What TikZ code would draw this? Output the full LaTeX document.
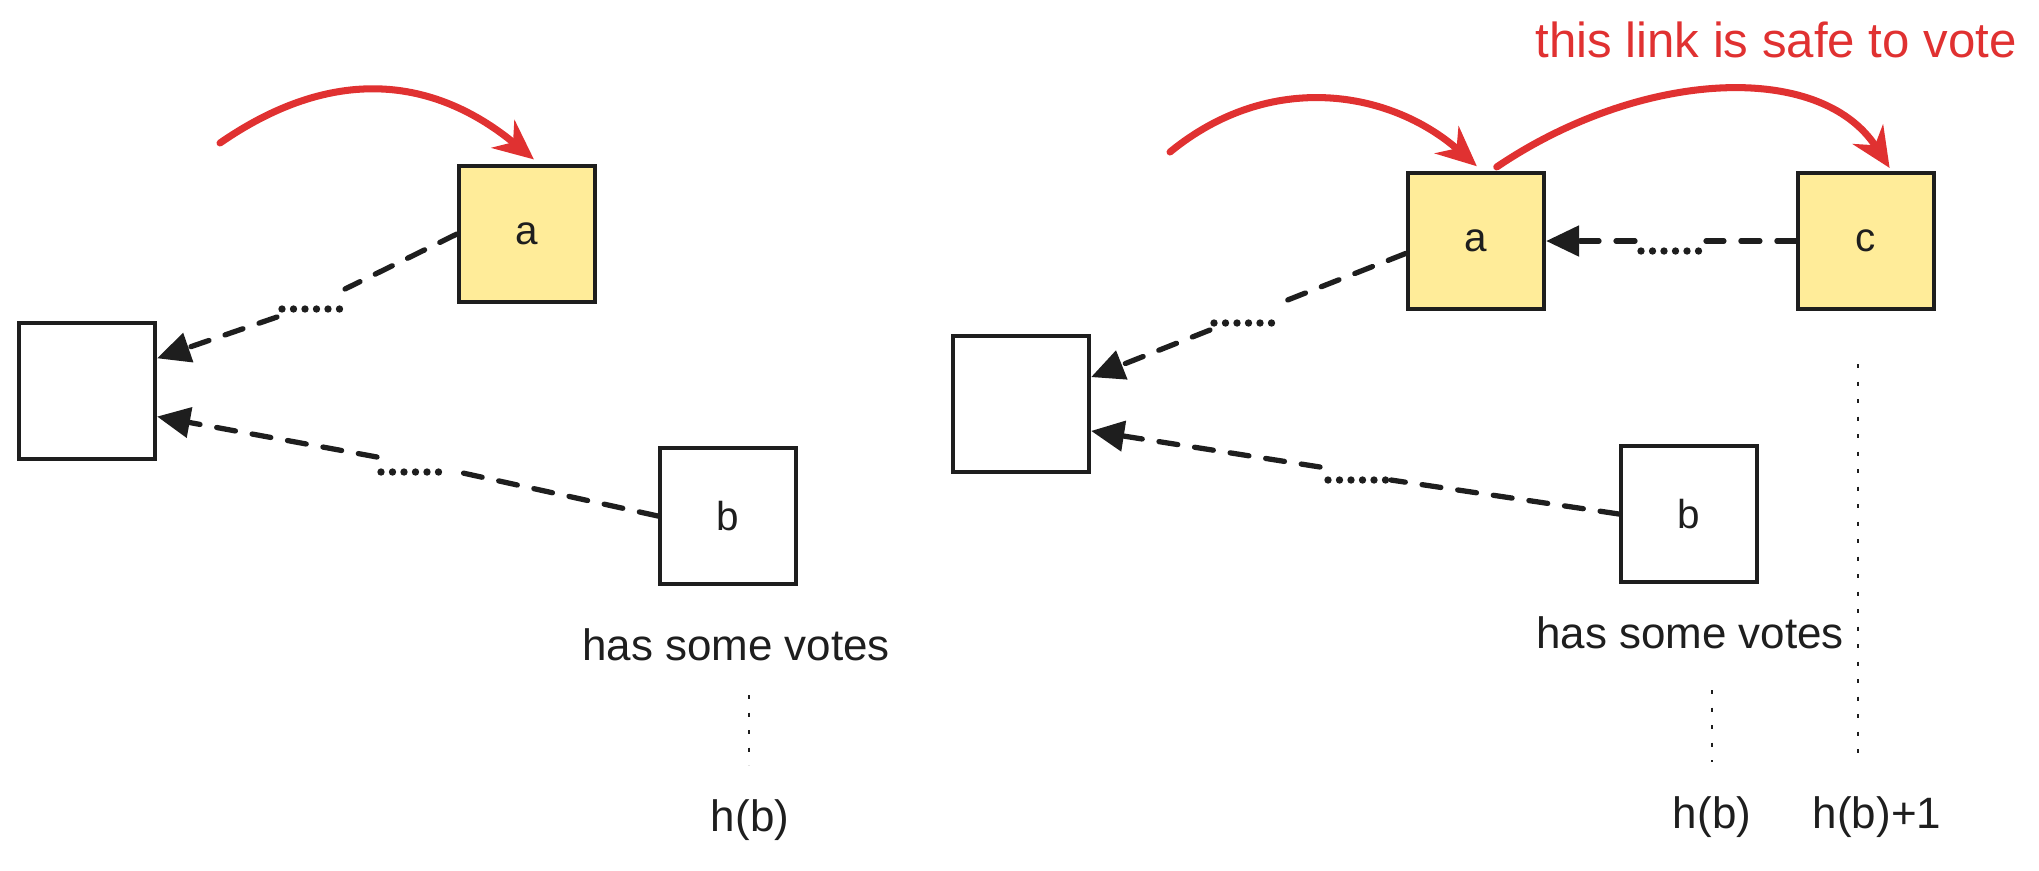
\documentclass[tikz,border=0pt]{standalone}
\usepackage{fontspec}
\setmainfont{Liberation Sans}
\usepackage{tikz}
\usetikzlibrary{arrows.meta,positioning}
\definecolor{inkblack}{HTML}{1E1E1E}
\definecolor{notered}{HTML}{E03131}
\definecolor{noteyellow}{HTML}{FFEC99}
\tikzset{
  blk/.style={draw=inkblack, line width=1.2pt, minimum width=13.6mm, minimum height=13.6mm, inner sep=0pt, fill=white, text=inkblack, font=\fontsize{11.5}{13}\selectfont},
  voted/.style={blk, fill=noteyellow},
  link/.style={draw=inkblack, line width=1.5pt, dash pattern=on 1.9mm off 1.7mm, line cap=round},
  linkarr/.style={link, -{Triangle[length=3.3mm, width=3mm]}},
  gapdots/.style={draw=inkblack, line width=2.1pt, dash pattern=on 0pt off 1.15mm, line cap=round},
  vote/.style={draw=notered, line width=2pt, line cap=round, -{Stealth[length=4mm, width=3.6mm]}},
  lbl/.style={text=inkblack, font=\fontsize{12.5}{15}\selectfont},
  note/.style={text=notered, font=\fontsize{14}{17}\selectfont},
  level/.style={draw=inkblack, line width=0.7pt, dash pattern=on 0.4mm off 1.35mm}}

\begin{document}
\begin{tikzpicture}[x=0.1mm, y=-0.1mm]
  \useasboundingbox (0,0) rectangle (2039,870);
  % left: before the vote
  \node[blk] (L1) at (87,391) {};
  \node[voted] (a1) at (527,234) {a};
  \node[blk] (b1) at (728,516) {b};
  \coordinate (g1u) at (345,289); \coordinate (g1d) at (277,317);
  \draw[link] (a1.west) -- (g1u);
  \draw[gapdots] (282,309) -- (343,309);
  \draw[linkarr] (g1d) -- (L1.25);
  \coordinate (g2u) at (463,473); \coordinate (g2d) at (377,457);
  \draw[link] (b1.west) -- (g2u);
  \draw[gapdots] (381,472) -- (447,472);
  \draw[linkarr] (g2d) -- (L1.-20);
  \coordinate (in1) at (220,143);
  \draw[vote, shorten >=2pt] (in1) .. controls (340,60) and (440,82) .. (a1.80);
  \node[lbl] (votes1) at (736,645) {has some votes};
  \node[lbl] (hb1) at (750,820) {h(b)};
  \draw[level] (749,695) -- (749,765);
  % right: a second link on top of a
  \node[blk] (R) at (1021,404) {};
  \node[voted] (a2) at (1476,241) {a};
  \node[voted] (c) at (1866,241) {c};
  \node[blk] (b2) at (1689,514) {b};
  \coordinate (g3u) at (1280,303); \coordinate (g3d) at (1210,330);
  \draw[link] (a2.-170) -- (g3u);
  \draw[gapdots] (1214,323) -- (1277,323);
  \draw[linkarr] (g3d) -- (R.21);
  \coordinate (g4u) at (1391,480); \coordinate (g4d) at (1320,467);
  \draw[link] (b2.west) -- (g4u);
  \draw[gapdots] (1328,480) -- (1386,480);
  \draw[linkarr] (g4d) -- (R.-21);
  \coordinate (g5u) at (1706,241); \coordinate (g5d) at (1635,241);
  \draw[link] (c.west) -- (g5u);
  \draw[gapdots] (1641,251) -- (1702,251);
  \draw[linkarr] (g5d) -- (a2.east);
  \coordinate (in2) at (1170,152);
  \draw[vote, shorten >=2pt] (in2) .. controls (1270,70) and (1390,90) .. (a2.85);
  \draw[vote, shorten <=2pt, shorten >=1pt] (a2.78) .. controls (1640,70) and (1820,60) .. (c.70);
  \node[note] (safe) at (1776,40) {this link is safe to vote};
  \node[lbl] (votes2) at (1690,633) {has some votes};
  \node[lbl] (hb2) at (1712,817) {h(b)};
  \node[lbl] (hb3) at (1877,817) {h(b)+1};
  \draw[level] (1712,690) -- (1712,762);
  \draw[level] (1858,364) -- (1858,761);
\end{tikzpicture}
\end{document}
